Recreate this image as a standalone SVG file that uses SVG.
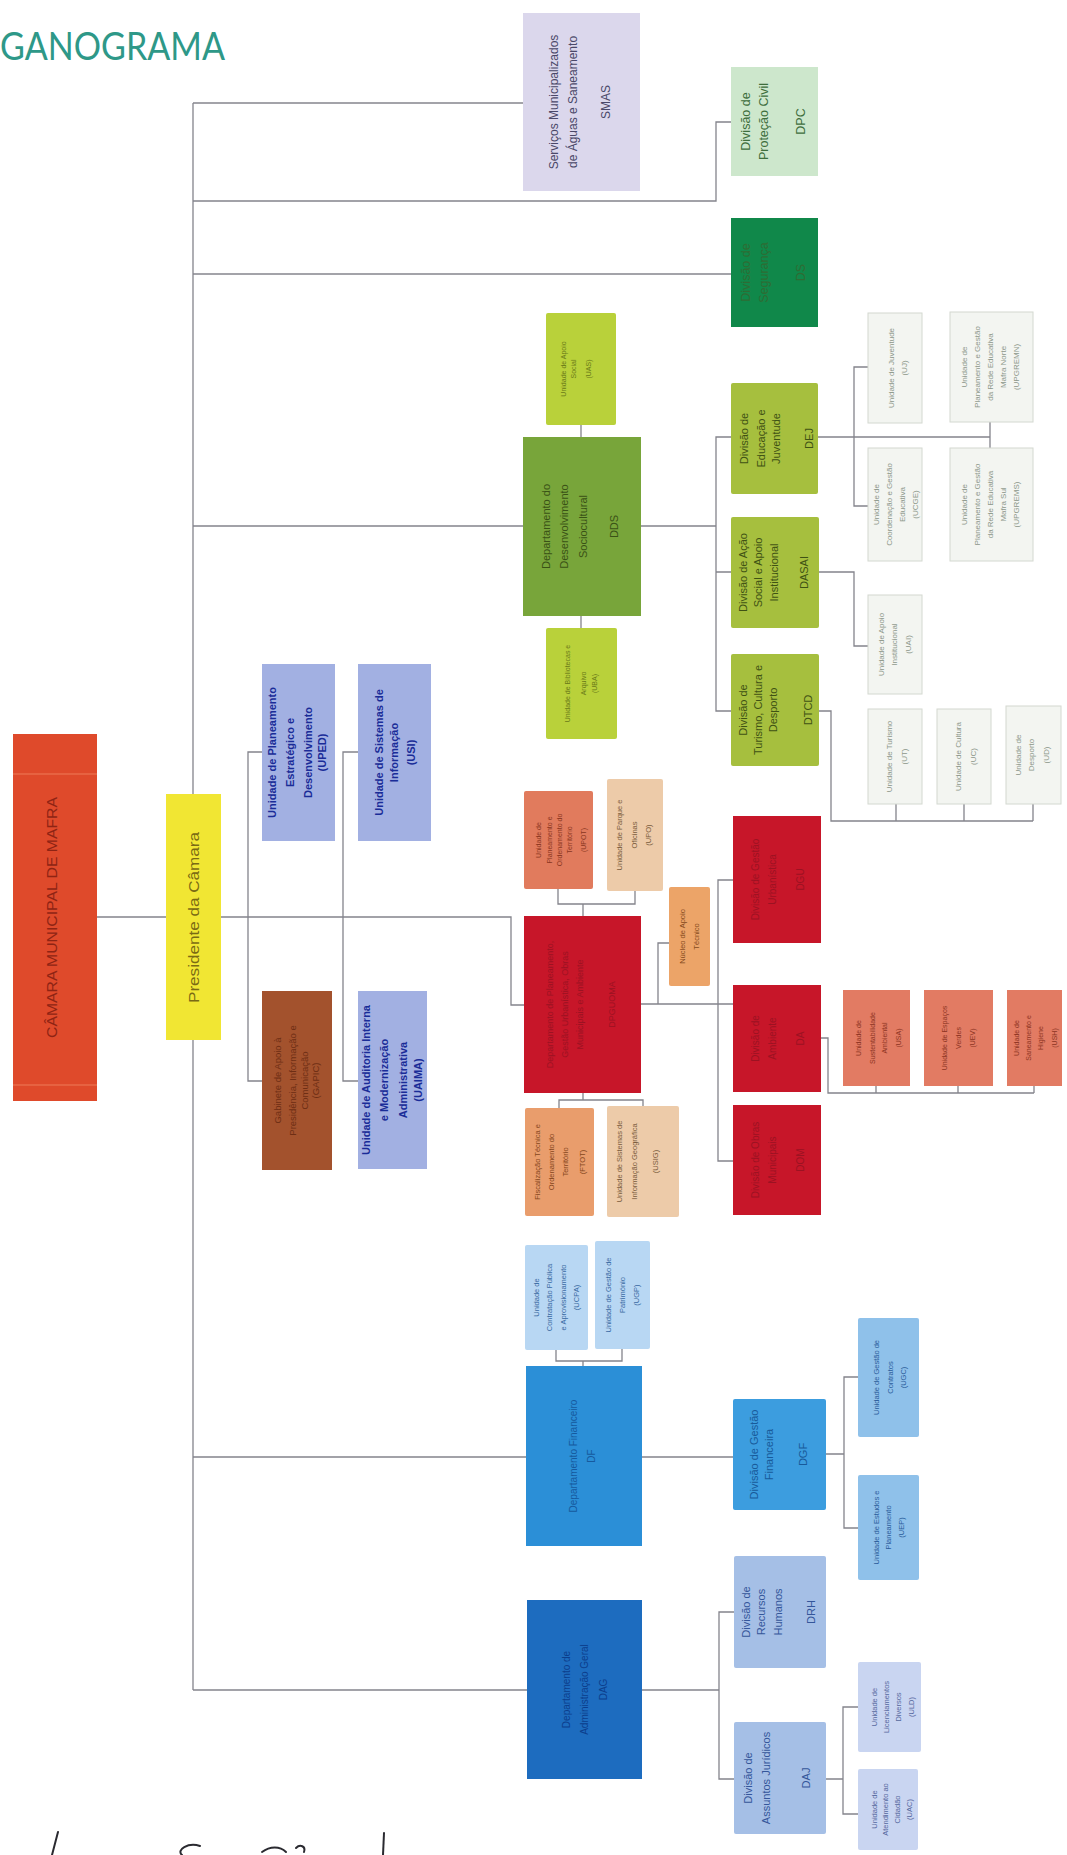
<svg xmlns="http://www.w3.org/2000/svg" width="1067" height="1855" viewBox="0 0 1067 1855">
<style>
.ln{stroke:#84848c;stroke-width:1.3;fill:none}
.t{font-family:"Liberation Sans",Arial,sans-serif;text-anchor:middle}
.b{font-weight:bold}
.smas{fill:#dbd7ec}.smasT{fill:#4a4868}
.dpc{fill:#cde7cc}.dpcT{fill:#3e6e3c}
.ds{fill:#10884a}.dsT{fill:#2e6c34}
.dds{fill:#78a53a}.ddsT{fill:#3a5216}
.lime{fill:#b9d13a}.limeT{fill:#6a7a18}
.div{fill:#a6bf3e}.divT{fill:#3f5214}
.wu{fill:#f3f5f1;stroke:#d3d8d0;stroke-width:1}.wuT{fill:#8c978a}
.cmm{fill:#df4a2b}.cmmT{fill:#8e2414}
.pres{fill:#f1e633}.presT{fill:#7a6a14}
.uni{fill:#a2b0e2}.uniT{fill:#1a2c98}
.gab{fill:#a3522d}.gabT{fill:#6e2e14}
.red{fill:#c71629}.redT{fill:#9c1222}
.sal{fill:#e17b5d}.salT{fill:#8a3620}
.bei{fill:#edcba9}.beiT{fill:#7a5c3c}
.org{fill:#e99d6c}.orgT{fill:#86461c}
.nuc{fill:#eca468}.nucT{fill:#864a1c}
.rsal{fill:#e27b63}.rsalT{fill:#8c3422}
.df{fill:#2b8fd7}.dfT{fill:#165a9e}
.lb{fill:#b8d7f3}.lbT{fill:#3a6aa2}
.dgf{fill:#3c9ddf}.dgfT{fill:#185a9a}
.mb{fill:#8fc1ea}.mbT{fill:#2a5c9a}
.dag{fill:#1d6cbf}.dagT{fill:#0c3e8c}
.pb{fill:#a5bfe6}.pbT{fill:#34569a}
.vb{fill:#c9d5f1}.vbT{fill:#56689e}
</style>

<text x="0" y="60" font-family="Lato,'Liberation Sans',sans-serif" font-size="38" fill="#2e9888" textLength="225" lengthAdjust="spacingAndGlyphs">GANOGRAMA</text>

<g id="connectors">
<!-- spine -->
<path class="ln" d="M193,103 V794 M193,1040 V1690"/>
<path class="ln" d="M193,103 H523"/>
<path class="ln" d="M193,201 H716 V122 H731"/>
<path class="ln" d="M193,274 H731"/>
<path class="ln" d="M193,526 H523 M641,526 H716"/>
<path class="ln" d="M97,917 H166 M221,917 H511 V1005 H524"/>
<path class="ln" d="M193,1457 H526 M642,1457 H733"/>
<path class="ln" d="M193,1690 H527 M642,1690 H719"/>
<!-- staff units -->
<path class="ln" d="M262,752 H248 V1081 H262 M358,752 H343 V1081 H358"/>
<!-- DDS -->
<path class="ln" d="M581,425 V437 M581,616 V628"/>
<path class="ln" d="M731,437 H716 V711 H731 M716,572 H731"/>
<path class="ln" d="M818,437 H990 M868,367 H854 V506 H868 M990,422 V448"/>
<path class="ln" d="M819,572 H854 V646 H868"/>
<path class="ln" d="M819,711 H831 V821 H1033 M896,804 V821 M964,804 V821 M1033,804 V821"/>
<!-- red dept -->
<path class="ln" d="M558,889 V904 H635 V891 M583,904 V916"/>
<path class="ln" d="M583,1093 V1100 M559,1108 V1100 H643 V1106"/>
<path class="ln" d="M641,1004 H733 M658,1004 V943 H669"/>
<path class="ln" d="M733,880 H718 V1161 H733"/>
<path class="ln" d="M821,1038 H828 V1093 H1034 M876,1086 V1093 M958,1086 V1093 M1034,1086 V1093"/>
<!-- DF -->
<path class="ln" d="M556,1350 V1361 H622 V1349 M583,1361 V1366"/>
<path class="ln" d="M826,1454 H844 M858,1377 H844 V1528 H858"/>
<!-- DAG -->
<path class="ln" d="M734,1612 H719 V1779 H734"/>
<path class="ln" d="M826,1779 H843 M858,1707 H843 V1814 H858"/>
</g>

<g id="n-smas"><rect class="smas" x="523" y="13" width="117" height="178"/>
<text class="t smasT" font-size="12" transform="translate(581.5 102) rotate(-90)"><tspan x="0" y="-23.3">Serviços Municipalizados</tspan><tspan x="0" y="-4.3">de Águas e Saneamento</tspan><tspan x="0" y="28.7">SMAS</tspan></text></g>

<g id="n-dpc"><rect class="dpc" x="731" y="67" width="87" height="109"/>
<text class="t dpcT" font-size="12.5" transform="translate(774.5 121.5) rotate(-90)"><tspan x="0" y="-24.1">Divisão de</tspan><tspan x="0" y="-6.1">Proteção Civil</tspan><tspan x="0" y="30.9">DPC</tspan></text></g>

<g id="n-ds"><rect class="ds" x="731" y="218" width="87" height="109"/>
<text class="t dsT" font-size="12.5" transform="translate(774.5 272.5) rotate(-90)"><tspan x="0" y="-24.1">Divisão de</tspan><tspan x="0" y="-6.1">Segurança</tspan><tspan x="0" y="30.9">DS</tspan></text></g>

<g id="n-uas"><rect class="lime" x="546" y="313" width="70" height="112" rx="2"/>
<text class="t limeT" font-size="7" transform="translate(581 369) rotate(-90)"><tspan x="0" y="-15.5">Unidade de Apoio</tspan><tspan x="0" y="-5.5">Social</tspan><tspan x="0" y="9.5">(UAS)</tspan></text></g>

<g id="n-dds"><rect class="dds" x="523" y="437" width="118" height="179"/>
<text class="t ddsT" font-size="11" transform="translate(582 526.5) rotate(-90)"><tspan x="0" y="-32.1">Departamento do</tspan><tspan x="0" y="-14.1">Desenvolvimento</tspan><tspan x="0" y="4.9">Sociocultural</tspan><tspan x="0" y="35.9">DDS</tspan></text></g>

<g id="n-uba"><rect class="lime" x="546" y="628" width="71" height="111" rx="2"/>
<text class="t limeT" font-size="7" transform="translate(581.5 683.5) rotate(-90)"><tspan x="0" y="-12">Unidade de Bibliotecas e</tspan><tspan x="0" y="4">Arquivo</tspan><tspan x="0" y="15">(UBA)</tspan></text></g>

<g id="n-dej"><rect class="div" x="731" y="383" width="87" height="111" rx="2"/>
<text class="t divT" font-size="11" transform="translate(774.5 438.5) rotate(-90)"><tspan x="0" y="-26.6">Divisão de</tspan><tspan x="0" y="-9.6">Educação e</tspan><tspan x="0" y="5.4">Juventude</tspan><tspan x="0" y="38.4">DEJ</tspan></text></g>

<g id="n-dasai"><rect class="div" x="731" y="517" width="88" height="111" rx="2"/>
<text class="t divT" font-size="11" transform="translate(775 572.5) rotate(-90)"><tspan x="0" y="-28.1">Divisão de Ação</tspan><tspan x="0" y="-13.1">Social e Apoio</tspan><tspan x="0" y="2.9">Institucional</tspan><tspan x="0" y="32.9">DASAI</tspan></text></g>

<g id="n-dtcd"><rect class="div" x="731" y="654" width="88" height="112" rx="2"/>
<text class="t divT" font-size="11" transform="translate(775 710) rotate(-90)"><tspan x="0" y="-28.1">Divisão de</tspan><tspan x="0" y="-13.1">Turismo, Cultura e</tspan><tspan x="0" y="1.9">Desporto</tspan><tspan x="0" y="36.9">DTCD</tspan></text></g>

<g id="n-uj"><rect class="wu" x="868" y="313" width="54" height="110"/>
<text class="t wuT" font-size="8" transform="translate(895 368) rotate(-90)"><tspan x="0" y="-1.2">Unidade de Juventude</tspan><tspan x="0" y="11.8">(UJ)</tspan></text></g>

<g id="n-ucge"><rect class="wu" x="868" y="448" width="54" height="113"/>
<text class="t wuT" font-size="8" transform="translate(895 504.5) rotate(-90)"><tspan x="0" y="-16.2">Unidade de</tspan><tspan x="0" y="-3.2">Coordenação e Gestão</tspan><tspan x="0" y="9.8">Educativa</tspan><tspan x="0" y="22.8">(UCGE)</tspan></text></g>

<g id="n-upgremn"><rect class="wu" x="950" y="312" width="83" height="110"/>
<text class="t wuT" font-size="8" transform="translate(991.5 367) rotate(-90)"><tspan x="0" y="-24.7">Unidade de</tspan><tspan x="0" y="-11.7">Planeamento e Gestão</tspan><tspan x="0" y="1.3">da Rede Educativa</tspan><tspan x="0" y="14.3">Mafra Norte</tspan><tspan x="0" y="27.3">(UPGREMN)</tspan></text></g>

<g id="n-upgrems"><rect class="wu" x="950" y="448" width="83" height="113"/>
<text class="t wuT" font-size="8" transform="translate(991.5 504.5) rotate(-90)"><tspan x="0" y="-24.7">Unidade de</tspan><tspan x="0" y="-11.7">Planeamento e Gestão</tspan><tspan x="0" y="1.3">da Rede Educativa</tspan><tspan x="0" y="14.3">Mafra Sul</tspan><tspan x="0" y="27.3">(UPGREMS)</tspan></text></g>

<g id="n-uai"><rect class="wu" x="868" y="595" width="54" height="99"/>
<text class="t wuT" font-size="8" transform="translate(895 644.5) rotate(-90)"><tspan x="0" y="-11.2">Unidade de Apoio</tspan><tspan x="0" y="1.8">Institucional</tspan><tspan x="0" y="15.8">(UAI)</tspan></text></g>

<g id="n-ut"><rect class="wu" x="868" y="709" width="54" height="95"/>
<text class="t wuT" font-size="8" transform="translate(895 756.5) rotate(-90)"><tspan x="0" y="-3.2">Unidade de Turismo</tspan><tspan x="0" y="11.8">(UT)</tspan></text></g>

<g id="n-uc"><rect class="wu" x="937" y="709" width="54" height="95"/>
<text class="t wuT" font-size="8" transform="translate(964 756.5) rotate(-90)"><tspan x="0" y="-3.2">Unidade de Cultura</tspan><tspan x="0" y="11.8">(UC)</tspan></text></g>

<g id="n-ud"><rect class="wu" x="1006" y="706" width="55" height="98"/>
<text class="t wuT" font-size="8" transform="translate(1033.5 755) rotate(-90)"><tspan x="0" y="-12.7">Unidade de</tspan><tspan x="0" y="0.3">Desporto</tspan><tspan x="0" y="15.3">(UD)</tspan></text></g>

<g id="n-cmm"><rect class="cmm" x="13" y="734" width="84" height="367"/>
<path d="M13,774 H97 M13,1085 H97" stroke="#ee7a58" stroke-width="1"/>
<text class="t cmmT" font-size="15" textLength="241" lengthAdjust="spacingAndGlyphs" transform="translate(55 917.5) rotate(-90)" x="0" y="2">CÂMARA MUNICIPAL DE MAFRA</text></g>

<g id="n-pres"><rect class="pres" x="166" y="794" width="55" height="246"/>
<text class="t presT" font-size="15" textLength="171" lengthAdjust="spacingAndGlyphs" transform="translate(193.5 917.5) rotate(-90)" x="0" y="5">Presidente da Câmara</text></g>

<g id="n-uped"><rect class="uni" x="262" y="664" width="73" height="177"/>
<text class="t b uniT" font-size="11" transform="translate(298.5 752.5) rotate(-90)"><tspan x="0" y="-22.6">Unidade de Planeamento</tspan><tspan x="0" y="-4.6">Estratégico e</tspan><tspan x="0" y="13.4">Desenvolvimento</tspan><tspan x="0" y="27.4">(UPED)</tspan></text></g>

<g id="n-usi"><rect class="uni" x="358" y="664" width="73" height="177"/>
<text class="t b uniT" font-size="11" transform="translate(394.5 752.5) rotate(-90)"><tspan x="0" y="-11.6">Unidade de Sistemas de</tspan><tspan x="0" y="3.4">Informação</tspan><tspan x="0" y="20.4">(USI)</tspan></text></g>

<g id="n-gapc"><rect class="gab" x="262" y="991" width="70" height="179"/>
<text class="t gabT" font-size="9.5" transform="translate(297 1080.5) rotate(-90)"><tspan x="0" y="-15.7">Gabinete de Apoio à</tspan><tspan x="0" y="-0.7">Presidência, Informação e</tspan><tspan x="0" y="11.3">Comunicação</tspan><tspan x="0" y="22.3">(GAPIC)</tspan></text></g>

<g id="n-uaima"><rect class="uni" x="358" y="991" width="69" height="178"/>
<text class="t b uniT" font-size="11" transform="translate(392.5 1080) rotate(-90)"><tspan x="0" y="-22.6">Unidade de Auditoria Interna</tspan><tspan x="0" y="-4.6">e Modernização</tspan><tspan x="0" y="14.4">Administrativa</tspan><tspan x="0" y="29.4">(UAIMA)</tspan></text></g>

<g id="n-upot"><rect class="sal" x="524" y="791" width="69" height="98" rx="2"/>
<text class="t salT" font-size="7" transform="translate(558.5 840) rotate(-90)"><tspan x="0" y="-18">Unidade de</tspan><tspan x="0" y="-7">Planeamento e</tspan><tspan x="0" y="3">Ordenamento do</tspan><tspan x="0" y="13">Território</tspan><tspan x="0" y="27">(UPOT)</tspan></text></g>

<g id="n-upo"><rect class="bei" x="607" y="779" width="56" height="112" rx="2"/>
<text class="t beiT" font-size="7.5" transform="translate(635 835) rotate(-90)"><tspan x="0" y="-13.4">Unidade de Parque e</tspan><tspan x="0" y="1.6">Oficinas</tspan><tspan x="0" y="15.6">(UPO)</tspan></text></g>

<g id="n-dpgu"><rect class="red" x="524" y="916" width="117" height="177"/>
<text class="t redT" font-size="9" transform="translate(582.5 1004.5) rotate(-90)"><tspan x="0" y="-29.3">Departamento de Planeamento,</tspan><tspan x="0" y="-14.3">Gestão Urbanística, Obras</tspan><tspan x="0" y="0.7">Municipais e Ambiente</tspan><tspan x="0" y="32.7">DPGUOMA</tspan></text></g>

<g id="n-nat"><rect class="nuc" x="669" y="887" width="41" height="99" rx="2"/>
<text class="t nucT" font-size="7.5" transform="translate(689.5 936.5) rotate(-90)"><tspan x="0" y="-4.9">Núcleo de Apoio</tspan><tspan x="0" y="9.1">Técnico</tspan></text></g>

<g id="n-ftot"><rect class="org" x="525" y="1108" width="69" height="108" rx="2"/>
<text class="t orgT" font-size="7.5" transform="translate(559.5 1162) rotate(-90)"><tspan x="0" y="-19.9">Fiscalização Técnica e</tspan><tspan x="0" y="-5.9">Ordenamento do</tspan><tspan x="0" y="8.1">Território</tspan><tspan x="0" y="25.1">(FTOT)</tspan></text></g>

<g id="n-usig"><rect class="bei" x="607" y="1106" width="72" height="111" rx="2"/>
<text class="t beiT" font-size="7.5" transform="translate(643 1161.5) rotate(-90)"><tspan x="0" y="-21.4">Unidade de Sistemas de</tspan><tspan x="0" y="-6.4">Informação Geográfica</tspan><tspan x="0" y="14.6">(USIG)</tspan></text></g>

<g id="n-dgu"><rect class="red" x="733" y="816" width="88" height="127"/>
<text class="t redT" font-size="10" transform="translate(777 879.5) rotate(-90)"><tspan x="0" y="-18.5">Divisão de Gestão</tspan><tspan x="0" y="-1.5">Urbanística</tspan><tspan x="0" y="26.5">DGU</tspan></text></g>

<g id="n-da"><rect class="red" x="733" y="985" width="88" height="107"/>
<text class="t redT" font-size="10" transform="translate(777 1038.5) rotate(-90)"><tspan x="0" y="-18.5">Divisão de</tspan><tspan x="0" y="-1.5">Ambiente</tspan><tspan x="0" y="26.5">DA</tspan></text></g>

<g id="n-dom"><rect class="red" x="733" y="1105" width="88" height="110"/>
<text class="t redT" font-size="10" transform="translate(777 1160) rotate(-90)"><tspan x="0" y="-18.5">Divisão de Obras</tspan><tspan x="0" y="-1.5">Municipais</tspan><tspan x="0" y="26.5">DOM</tspan></text></g>

<g id="n-usa"><rect class="rsal" x="843" y="990" width="67" height="96"/>
<text class="t rsalT" font-size="7" transform="translate(876.5 1038) rotate(-90)"><tspan x="0" y="-16">Unidade de</tspan><tspan x="0" y="-2">Sustentabilidade</tspan><tspan x="0" y="10">Ambiental</tspan><tspan x="0" y="24">(USA)</tspan></text></g>

<g id="n-uev"><rect class="rsal" x="924" y="990" width="69" height="96"/>
<text class="t rsalT" font-size="7" transform="translate(958.5 1038) rotate(-90)"><tspan x="0" y="-12">Unidade de Espaços</tspan><tspan x="0" y="2">Verdes</tspan><tspan x="0" y="16">(UEV)</tspan></text></g>

<g id="n-ush"><rect class="rsal" x="1007" y="990" width="55" height="96"/>
<text class="t rsalT" font-size="7" transform="translate(1034.5 1038) rotate(-90)"><tspan x="0" y="-16">Unidade de</tspan><tspan x="0" y="-4">Saneamento e</tspan><tspan x="0" y="8">Higiene</tspan><tspan x="0" y="22">(USH)</tspan></text></g>

<g id="n-ucpa"><rect class="lb" x="525" y="1245" width="63" height="105" rx="2"/>
<text class="t lbT" font-size="7.5" transform="translate(556.5 1297.5) rotate(-90)"><tspan x="0" y="-17.9">Unidade de</tspan><tspan x="0" y="-4.9">Contratação Pública</tspan><tspan x="0" y="9.1">e Aprovisionamento</tspan><tspan x="0" y="22.1">(UCPA)</tspan></text></g>

<g id="n-ugp"><rect class="lb" x="595" y="1241" width="55" height="108" rx="2"/>
<text class="t lbT" font-size="7.5" transform="translate(622.5 1295) rotate(-90)"><tspan x="0" y="-11.9">Unidade de Gestão de</tspan><tspan x="0" y="2.1">Património</tspan><tspan x="0" y="16.1">(UGP)</tspan></text></g>

<g id="n-df"><rect class="df" x="526" y="1366" width="116" height="180"/>
<text class="t dfT" font-size="10" transform="translate(584 1456) rotate(-90)"><tspan x="0" y="-7.5">Departamento Financeiro</tspan><tspan x="0" y="10.5">DF</tspan></text></g>

<g id="n-dgf"><rect class="dgf" x="733" y="1399" width="93" height="111" rx="2"/>
<text class="t dgfT" font-size="11" transform="translate(779.5 1454.5) rotate(-90)"><tspan x="0" y="-21.6">Divisão de Gestão</tspan><tspan x="0" y="-6.6">Financeira</tspan><tspan x="0" y="27.4">DGF</tspan></text></g>

<g id="n-ugc"><rect class="mb" x="858" y="1318" width="61" height="119" rx="2"/>
<text class="t mbT" font-size="7.5" transform="translate(888.5 1377.5) rotate(-90)"><tspan x="0" y="-9.9">Unidade de Gestão de</tspan><tspan x="0" y="4.1">Contratos</tspan><tspan x="0" y="17.1">(UGC)</tspan></text></g>

<g id="n-uep"><rect class="mb" x="858" y="1475" width="61" height="105" rx="2"/>
<text class="t mbT" font-size="7.5" transform="translate(888.5 1527.5) rotate(-90)"><tspan x="0" y="-9.9">Unidade de Estudos e</tspan><tspan x="0" y="2.1">Planeamento</tspan><tspan x="0" y="15.1">(UEP)</tspan></text></g>

<g id="n-dag"><rect class="dag" x="527" y="1600" width="115" height="179"/>
<text class="t dagT" font-size="10" transform="translate(584.5 1689.5) rotate(-90)"><tspan x="0" y="-15">Departamento de</tspan><tspan x="0" y="3">Administração Geral</tspan><tspan x="0" y="22">DAG</tspan></text></g>

<g id="n-drh"><rect class="pb" x="734" y="1556" width="92" height="112" rx="2"/>
<text class="t pbT" font-size="11" transform="translate(780 1612) rotate(-90)"><tspan x="0" y="-30.1">Divisão de</tspan><tspan x="0" y="-15.1">Recursos</tspan><tspan x="0" y="1.9">Humanos</tspan><tspan x="0" y="34.9">DRH</tspan></text></g>

<g id="n-daj"><rect class="pb" x="734" y="1722" width="92" height="112" rx="2"/>
<text class="t pbT" font-size="11" transform="translate(780 1778) rotate(-90)"><tspan x="0" y="-28.1">Divisão de</tspan><tspan x="0" y="-10.1">Assuntos Jurídicos</tspan><tspan x="0" y="29.9">DAJ</tspan></text></g>

<g id="n-uld"><rect class="vb" x="858" y="1662" width="63" height="90" rx="2"/>
<text class="t vbT" font-size="7.5" transform="translate(889.5 1707) rotate(-90)"><tspan x="0" y="-12.9">Unidade de</tspan><tspan x="0" y="-0.9">Licenciamentos</tspan><tspan x="0" y="11.1">Diversos</tspan><tspan x="0" y="24.1">(ULD)</tspan></text></g>

<g id="n-uac"><rect class="vb" x="858" y="1769" width="60" height="81" rx="2"/>
<text class="t vbT" font-size="7.5" transform="translate(888 1809.5) rotate(-90)"><tspan x="0" y="-11.4">Unidade de</tspan><tspan x="0" y="-0.4">Atendimento ao</tspan><tspan x="0" y="11.6">Cidadão</tspan><tspan x="0" y="23.6">(UAC)</tspan></text></g>

<g id="signature" fill="none" stroke="#2a2a30" stroke-width="2" stroke-linecap="round">
<path d="M58,1832 L52,1855"/>
<path d="M200,1846 C188,1842 176,1850 182,1855"/>
<path d="M262,1852 C270,1846 280,1846 286,1852 M296,1848 C300,1844 306,1846 304,1852"/>
<path d="M384,1833 L383,1855"/>
</g>
</svg>
